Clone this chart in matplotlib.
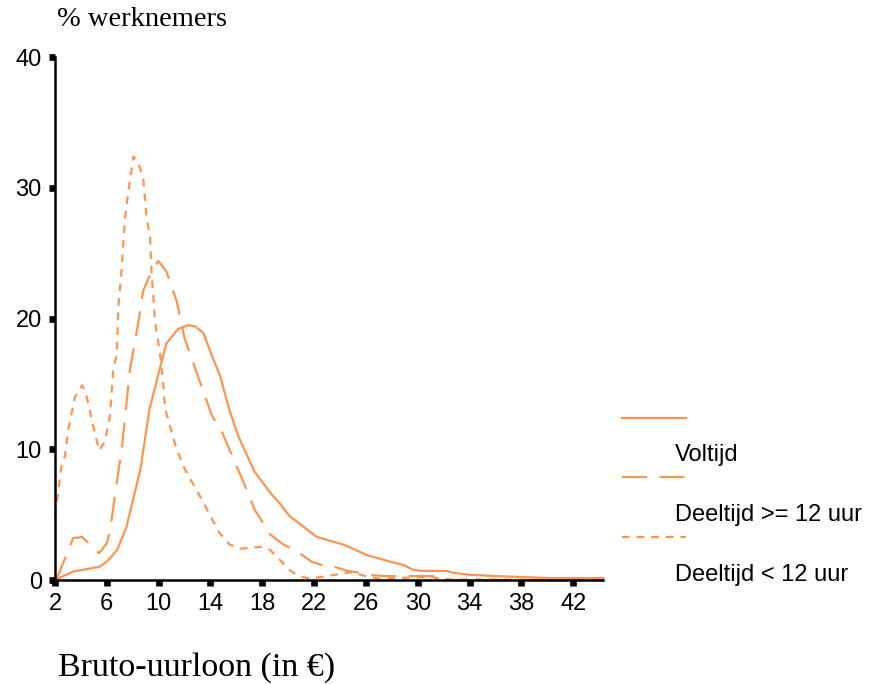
import numpy as np
import matplotlib
matplotlib.use('Agg')
import matplotlib.pyplot as plt
from matplotlib.lines import Line2D

# ── Data ──────────────────────────────────────────────────────────────────────

voltijd_x = [2, 3.4, 5.4, 6, 6.8, 7.5, 8.6, 9.3, 10.1, 10.6, 11.5, 12.3, 12.8,
             13.45, 14.1, 14.75, 15.4, 16.15, 17.4, 18.6, 19.4, 20.1, 22.2,
             24.3, 26.1, 27.9, 28.9, 29.6, 30.2, 32.2, 32.7, 34, 36.1, 40.2, 44.3]
voltijd_y = [0, 0.65, 1.0, 1.4, 2.3, 4.0, 8.5, 13.1, 16.2, 18.1, 19.2, 19.5, 19.4,
             18.9, 17.2, 15.6, 13.2, 11.0, 8.3, 6.7, 5.8, 4.9, 3.3,
             2.7, 1.9, 1.4, 1.15, 0.8, 0.7, 0.7, 0.56, 0.4, 0.3, 0.15, 0.15]

lang_x = [2.1, 3.4, 4.1, 4.3, 5.4, 6.0, 6.25, 6.76, 7.15, 7.8, 8.4, 8.8, 9.45,
          9.98, 10.6, 11.4, 12.0, 13.1, 14.1, 14.9, 16.5, 17.4, 18.6, 19.5,
          20.9, 21.8, 22.8, 23.6, 24.5, 25.5, 26.3, 27.6, 31.2, 32.5, 44.3]
lang_y = [0, 3.2, 3.3, 3.1, 2.05, 2.8, 3.8, 7.4, 10.0, 16.2, 19.5, 22.1, 23.6,
          24.4, 23.6, 21.3, 18.5, 15.4, 12.6, 11.3, 7.6, 5.4, 3.5, 2.8,
          2.05, 1.4, 1.08, 1.0, 0.72, 0.56, 0.38, 0.3, 0.3, 0.0, 0.0]

kort_x = [2.0, 2.5, 2.77, 3.03, 3.54, 4.1, 4.45, 4.83, 5.4, 5.86, 6.25, 6.5,
          6.76, 6.9, 7.15, 7.4, 7.66, 7.9, 8.05, 8.43, 8.8, 9.08, 9.34, 9.45,
          9.73, 10.1, 10.36, 10.5, 10.9, 11.3, 11.9, 12.9, 13.2, 14.0, 14.7,
          15.5, 16.3, 18.1, 18.6, 19.4, 20.1, 20.9, 21.7, 23.0, 24.8, 26.0,
          27.0, 31.0, 32.0, 44.3]
kort_y = [4.9, 8.7, 9.5, 11.5, 14.0, 14.9, 14.0, 12.3, 9.9, 10.6, 12.6, 16.2,
          17.2, 21.0, 23.8, 27.7, 29.7, 31.3, 32.4, 31.9, 30.8, 27.7, 26.2, 23.6,
          19.7, 17.4, 14.9, 13.1, 11.7, 10.3, 8.7, 6.9, 6.4, 4.9, 3.6,
          2.7, 2.4, 2.55, 2.3, 1.5, 0.77, 0.25, 0.13, 0.3, 0.6, 0.3,
          0.1, 0.25, 0.05, 0.0]

labels = ['Voltijd', 'Deeltijd >= 12 uur', 'Deeltijd < 12 uur']
xticks = [2, 6, 10, 14, 18, 22, 26, 30, 34, 38, 42]
yticks = [0, 10, 20, 30, 40]

ORANGE = '#ff9450'
DASHES = [None, (18, 9), (5.5, 5)]

# ── Plot ─────────────────────────────────────────────────────────────────────

plt.rcParams['lines.scale_dashes'] = False
fig = plt.figure(figsize=(8.77, 6.84), dpi=100)
ax = fig.add_axes([0.0627, 0.152, 0.6249, 0.7646])

series = [(voltijd_x, voltijd_y), (lang_x, lang_y), (kort_x, kort_y)]
for (xs, ys), dash in zip(series, DASHES):
    line, = ax.plot(xs, ys, color=ORANGE, linewidth=1.6, clip_on=False, zorder=2)
    if dash:
        line.set_dashes(dash)

ax.set_xlim(2, 44.3)
ax.set_ylim(0, 40)
ax.set_xticks(xticks)
ax.set_yticks(yticks)
for s in ['top', 'right']:
    ax.spines[s].set_visible(False)
for s in ['left', 'bottom']:
    ax.spines[s].set_linewidth(1.8)
    ax.spines[s].set_zorder(3)
ax.tick_params(direction='out', length=4.5, width=4.8, color='black',
               labelsize=17, pad=5)
for lab in ax.get_xticklabels() + ax.get_yticklabels():
    lab.set_family('Liberation Sans')

fig.text(0.065, 0.972, '% werknemers', family='Liberation Serif', fontsize=20.5,
         ha='left', va='center')
fig.text(0.066, 0.024, 'Bruto-uurloon (in €)', family='Liberation Serif',
         fontsize=24.5, ha='left', va='center')

# legend drawn by hand: sample line above, label below-right
line_y = [0.389, 0.3026, 0.2149]
text_y = [0.3348, 0.2471, 0.1594]
for lab, dash, ly, ty in zip(labels, DASHES, line_y, text_y):
    ln = Line2D([0.709, 0.782], [ly, ly], transform=fig.transFigure,
                color=ORANGE, linewidth=1.6)
    if dash:
        ln.set_dashes(dash)
    fig.add_artist(ln)
    fig.text(0.770, ty, lab, family='Liberation Sans', fontsize=17,
             ha='left', va='center')

fig.savefig('out.png', dpi=100)
